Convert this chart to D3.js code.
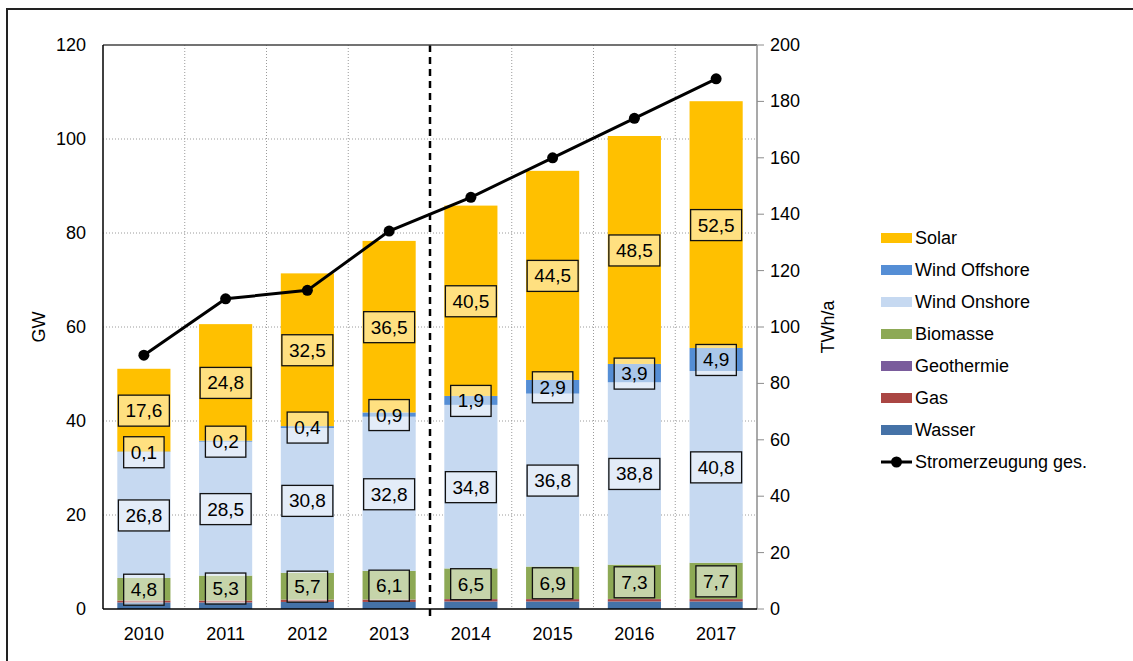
<!DOCTYPE html>
<html>
<head>
<meta charset="utf-8">
<script src="https://cdn.jsdelivr.net/npm/d3@7"></script>
<style>
	body { margin: 0; background: #fff; }
	svg { display: block; font-family: Arial, 'Liberation Sans', sans-serif; }
</style>
</head>
<body>
<svg id="chart" width="1133" height="661"></svg>
<script>
var years = ['2010','2011','2012','2013','2014','2015','2016','2017']
var wasser = [1.4,1.4,1.5,1.5,1.6,1.6,1.6,1.6]
var gas = [0.4,0.4,0.5,0.5,0.5,0.5,0.5,0.5]
var geothermie = [0.01,0.01,0.01,0.02,0.03,0.03,0.04,0.04]
var biomasse = [4.8,5.3,5.7,6.1,6.5,6.9,7.3,7.7]
var windOnshore = [26.8,28.5,30.8,32.8,34.8,36.8,38.8,40.8]
var windOffshore = [0.1,0.2,0.4,0.9,1.9,2.9,3.9,4.9]
var solar = [17.6,24.8,32.5,36.5,40.5,44.5,48.5,52.5]
var stromerzeugung = [90,110,113,134,146,160,174,188]
var leftTicks = [0,20,40,60,80,100,120]
var rightTicks = [0,20,40,60,80,100,120,140,160,180,200]

var series = [
	{name:'Wasser', values:wasser, color:'#4572A7', label:false},
	{name:'Gas', values:gas, color:'#AA4643', label:false},
	{name:'Geothermie', values:geothermie, color:'#7A5C9C', label:false},
	{name:'Biomasse', values:biomasse, color:'#8DA955', label:true},
	{name:'Wind Onshore', values:windOnshore, color:'#C6D9F1', label:true},
	{name:'Wind Offshore', values:windOffshore, color:'#558ED5', label:true},
	{name:'Solar', values:solar, color:'#FFC000', label:true}
]

var svg = d3.select('#chart')
var plotLeft = 103, plotRight = 757, plotTop = 45, plotBottom = 609

var x = d3.scaleBand().domain(years).range([plotLeft,plotRight]).paddingInner(0.35).paddingOuter(0.175)
var xb = d3.scaleBand().domain(years).range([plotLeft,plotRight])
var yL = d3.scaleLinear().domain([0,120]).range([plotBottom,plotTop])
var yR = d3.scaleLinear().domain([0,200]).range([plotBottom,plotTop])

// outer frame
svg.append('rect')
	.attr('x',7).attr('y',9)
	.attr('width',1140).attr('height',670)
	.style('fill','none').style('stroke','#222').style('stroke-width',2)

// grid
svg.append('g').selectAll('line')
	.data(leftTicks.slice(1,-1))
	.join('line')
	.attr('x1',plotLeft).attr('x2',plotRight)
	.attr('y1',function(d){ return yL(d) }).attr('y2',function(d){ return yL(d) })
	.style('stroke','#9a9a9a').style('stroke-dasharray','1,2').style('stroke-width',1)
svg.append('g').selectAll('line')
	.data(years.slice(1).filter(function(d){ return d !== '2014' }))
	.join('line')
	.attr('x1',function(d){ return xb(d) }).attr('x2',function(d){ return xb(d) })
	.attr('y1',plotTop).attr('y2',plotBottom)
	.style('stroke','#9a9a9a').style('stroke-dasharray','1,2').style('stroke-width',1)

// stacked bars
var rows = years.map(function(y,i){
	var r = {year:y}
	series.forEach(function(s){ r[s.name] = s.values[i] })
	return r
})
var stack = d3.stack().keys(series.map(function(s){ return s.name }))(rows)

var layers = svg.append('g').selectAll('g')
	.data(stack)
	.join('g')
	.style('fill',function(d,i){ return series[i].color })
layers.selectAll('rect')
	.data(function(d){ return d })
	.join('rect')
	.attr('x',function(d){ return x(d.data.year) })
	.attr('width',x.bandwidth())
	.attr('y',function(d){ return yL(d[1]) })
	.attr('height',function(d){ return yL(d[0]) - yL(d[1]) })

// dashed separator
svg.append('line')
	.attr('x1',xb('2014')).attr('x2',xb('2014'))
	.attr('y1',plotTop).attr('y2',plotBottom + 7)
	.style('stroke','#000').style('stroke-width',2.5).style('stroke-dasharray','7,5')

// axes lines
svg.append('line').attr('x1',plotLeft).attr('x2',plotRight).attr('y1',plotTop).attr('y2',plotTop)
	.style('stroke','#444').style('stroke-width',1.5)
svg.append('line').attr('x1',plotRight).attr('x2',plotRight).attr('y1',plotTop).attr('y2',plotBottom)
	.style('stroke','#8c8c8c').style('stroke-width',1.5)
svg.append('line').attr('x1',plotLeft).attr('x2',plotLeft).attr('y1',plotTop).attr('y2',plotBottom)
	.style('stroke','#000').style('stroke-width',1.5)
svg.append('line').attr('x1',plotLeft).attr('x2',plotRight).attr('y1',plotBottom).attr('y2',plotBottom)
	.style('stroke','#000').style('stroke-width',1.5)

// right ticks
svg.append('g').selectAll('line')
	.data(rightTicks)
	.join('line')
	.attr('x1',plotRight).attr('x2',plotRight + 7)
	.attr('y1',function(d){ return yR(d) }).attr('y2',function(d){ return yR(d) })
	.style('stroke','#8c8c8c').style('stroke-width',1)

svg.append('g').selectAll('text')
	.data(leftTicks)
	.join('text')
	.attr('x',86).attr('y',function(d){ return yL(d) + 6 })
	.attr('text-anchor','end')
	.style('font-size','18px').style('fill','#000')
	.text(function(d){ return d })
svg.append('g').selectAll('text')
	.data(rightTicks)
	.join('text')
	.attr('x',770).attr('y',function(d){ return yR(d) + 6 })
	.style('font-size','18px').style('fill','#000')
	.text(function(d){ return d })
svg.append('g').selectAll('text')
	.data(years)
	.join('text')
	.attr('x',function(d){ return xb(d) + xb.bandwidth()/2 }).attr('y',640)
	.attr('text-anchor','middle')
	.style('font-size','18px').style('fill','#000')
	.text(function(d){ return d })

svg.append('text')
	.attr('transform','translate(45,327) rotate(-90)')
	.attr('text-anchor','middle')
	.style('font-size','18px')
	.text('GW')
svg.append('text')
	.attr('transform','translate(834,327) rotate(-90)')
	.attr('text-anchor','middle')
	.style('font-size','18px')
	.text('TWh/a')

// value labels
var fmt = function(v){ return d3.format('.1f')(v).replace('.',',') }
stack.forEach(function(layer,i){
	if (!series[i].label) return
	var g = svg.append('g').selectAll('g')
		.data(layer)
		.join('g')
		.attr('transform',function(d){
			return 'translate(' + (x(d.data.year) + x.bandwidth()/2) + ',' + yL((d[0] + d[1])/2) + ')'
		})
	g.append('text')
		.attr('text-anchor','middle')
		.attr('y',7)
		.style('font-size','19px')
		.text(function(d){ return fmt(d[1] - d[0]) })
		.each(function(){
			var bb = this.getBBox()
			d3.select(this.parentNode).insert('rect','text')
				.attr('x',bb.x - 7).attr('y',-15)
				.attr('width',bb.width + 14).attr('height',31)
				.style('fill','#fff').style('fill-opacity',0.5)
				.style('stroke','#111').style('stroke-width',1.3)
		})
})

// line
var line = d3.line()
	.x(function(d,i){ return xb(years[i]) + xb.bandwidth()/2 })
	.y(function(d){ return yR(d) })
svg.append('path')
	.datum(stromerzeugung)
	.attr('d',line)
	.style('fill','none').style('stroke','#000').style('stroke-width',3)
svg.append('g').selectAll('circle')
	.data(stromerzeugung)
	.join('circle')
	.attr('cx',function(d,i){ return xb(years[i]) + xb.bandwidth()/2 })
	.attr('cy',function(d){ return yR(d) })
	.attr('r',5.5)
	.style('fill','#000')

// legend
var legendItems = series.slice().reverse()
var legend = svg.append('g')
legend.selectAll('g.item')
	.data(legendItems)
	.join('g')
	.attr('class','item')
	.attr('transform',function(d,i){ return 'translate(881,' + (238 + i*32) + ')' })
	.each(function(d){
		var g = d3.select(this)
		g.append('rect').attr('x',0).attr('y',-5).attr('width',31).attr('height',10).style('fill',d.color)
		g.append('text').attr('x',34).attr('y',6).style('font-size','18px').text(d.name)
	})
var lg = legend.append('g').attr('transform','translate(881,' + (238 + 7*32) + ')')
lg.append('line').attr('x1',0).attr('x2',31).attr('y1',0).attr('y2',0).style('stroke','#000').style('stroke-width',3)
lg.append('circle').attr('cx',15.5).attr('cy',0).attr('r',5.5).style('fill','#000')
lg.append('text').attr('x',34).attr('y',6).style('font-size','18px').text('Stromerzeugung ges.')
</script>
</body>
</html>
